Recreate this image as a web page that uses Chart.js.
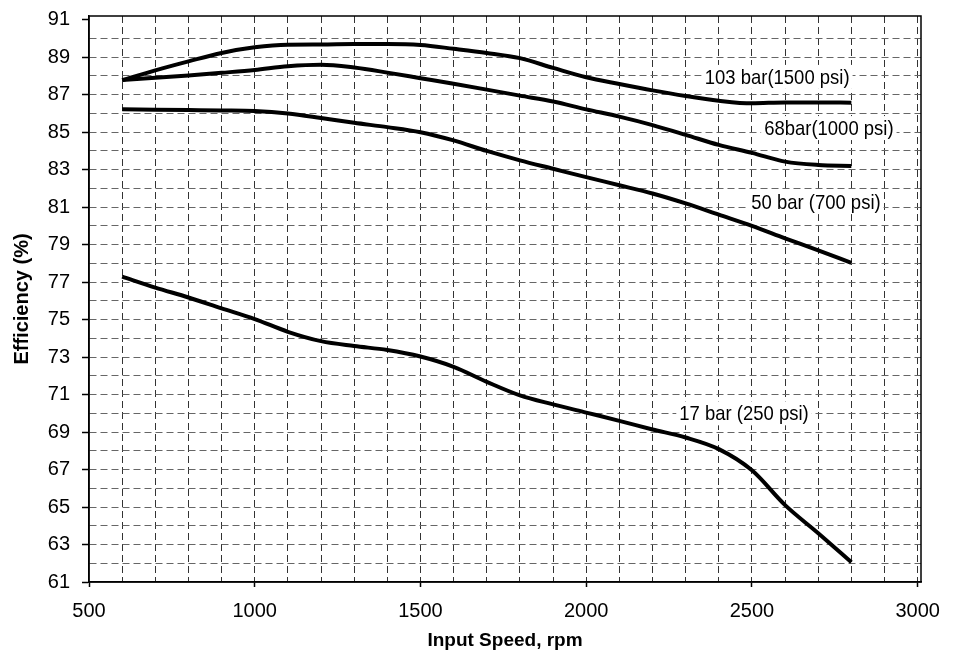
<!DOCTYPE html>
<html><head><meta charset="utf-8">
<script src="https://cdn.jsdelivr.net/npm/chart.js@4.4.0/dist/chart.umd.min.js"></script>
<style>html,body{margin:0;padding:0;background:#fff;}#wrap{width:956px;height:655px;position:relative;}</style>
</head><body><div id="wrap"><canvas id="c" width="956" height="655"></canvas></div>
<script>
// ---- data ----
const speeds = [600,700,800,900,1000,1100,1200,1300,1400,1500,1600,1700,1800,1900,2000,2100,2200,2300,2400,2500,2600,2700,2800];
const eff103 = [87.78,88.3,88.78,89.23,89.53,89.67,89.68,89.7,89.7,89.65,89.45,89.23,88.95,88.43,87.93,87.57,87.23,86.93,86.68,86.54,86.59,86.59,86.57];
const eff68  = [87.78,87.9,88.03,88.17,88.32,88.52,88.6,88.45,88.18,87.88,87.58,87.27,86.95,86.64,86.22,85.83,85.38,84.86,84.32,83.9,83.43,83.25,83.2];
const eff50  = [86.22,86.2,86.18,86.16,86.13,86.0,85.76,85.5,85.27,85.0,84.56,84.0,83.5,83.05,82.6,82.17,81.73,81.2,80.6,80.0,79.34,78.7,78.03];
const eff17  = [77.29,76.71,76.18,75.6,75.03,74.35,73.85,73.59,73.38,73.03,72.48,71.68,70.96,70.48,70.04,69.6,69.14,68.71,68.09,66.96,65.1,63.6,62.05];
const seriesNames = ['103 bar(1500 psi)','68bar(1000 psi)','50 bar (700 psi)','17 bar (250 psi)'];
const labelAtSpeed = [2576,2732,2693,2476];
const labelAtEff   = [87.95,85.22,81.27,70.0];
const xTickLabels = ['500','1000','1500','2000','2500','3000'];
const yTickLabels = ['61','63','65','67','69','71','73','75','77','79','81','83','85','87','89','91'];
const xTitle = 'Input Speed, rpm';
const yTitle = 'Efficiency (%)';

const seriesValues = [eff103, eff68, eff50, eff17];
const datasets = seriesValues.map((vals, i) => ({
  label: seriesNames[i],
  data: speeds.map((s, k) => ({x: s, y: vals[k]})),
  borderColor: '#000',
  borderWidth: 4,
  pointRadius: 0,
  fill: false,
  cubicInterpolationMode: 'monotone'
}));

const tickFont = {family: '"Liberation Sans", Arial, sans-serif', size: 20};

const decor = {
  id: 'decor',
  beforeDatasetsDraw(chart) {
    const {ctx, scales: {x, y}} = chart;
    ctx.save();
    ctx.font = '21px "Liberation Sans", Arial, sans-serif';
    ctx.textBaseline = 'middle';
    ctx.textAlign = 'left';
    const sx = 0.88;
    seriesNames.forEach((t, i) => {
      const px = x.getPixelForValue(labelAtSpeed[i]);
      const py = y.getPixelForValue(labelAtEff[i]);
      const w = ctx.measureText(t).width * sx;
      ctx.fillStyle = '#fff';
      ctx.fillRect(px - w / 2 - 3, py - 12, w + 6, 24);
      ctx.save();
      ctx.translate(px - w / 2, py + 1);
      ctx.scale(sx, 1);
      ctx.fillStyle = '#000';
      ctx.fillText(t, 0, 0);
      ctx.restore();
    });
    ctx.restore();
  },
  afterDraw(chart) {
    const {ctx, chartArea: a} = chart;
    ctx.save();
    ctx.strokeStyle = '#000';
    ctx.lineWidth = 1.5;
    ctx.strokeRect(a.left, a.top, a.right - a.left, a.bottom - a.top);
    ctx.restore();
  }
};

new Chart(document.getElementById('c'), {
  type: 'line',
  data: {datasets},
  plugins: [decor],
  options: {
    responsive: false,
    animation: false,
    devicePixelRatio: 1,
    layout: {padding: {top: 16, right: 35, left: 0, bottom: 0}},
    plugins: {legend: {display: false}, tooltip: {enabled: false}},
    scales: {
      x: {
        type: 'linear',
        min: 500, max: 3010,
        afterBuildTicks(s) { const t = []; for (let v = 500; v <= 3000; v += 100) t.push({value: v}); s.ticks = t; },
        afterFit(s) { s.height = 73; s.paddingLeft = 0; s.paddingRight = 0; },
        ticks: {
          autoSkip: false, maxRotation: 0, minRotation: 0, padding: 12, color: '#000', font: tickFont,
          callback: (v) => { const i = xTickLabels.indexOf(String(v)); return i >= 0 ? xTickLabels[i] : ''; }
        },
        grid: {
          color: (c) => (c.tick && c.tick.value === 500) ? 'rgba(0,0,0,0)' : '#333',
          lineWidth: 1,
          tickLength: 5,
          tickColor: (c) => (c.tick && c.tick.value % 500 === 0) ? '#000' : 'rgba(0,0,0,0)',
          tickWidth: 1.5,
          tickBorderDash: []
        },
        border: {display: true, color: '#000', width: 1.5, dash: [7, 4]},
        title: {display: true, text: xTitle, color: '#000', font: {family: '"Liberation Sans", Arial, sans-serif', size: 19, weight: 'bold'}, padding: {top: 0, bottom: 3}}
      },
      y: {
        type: 'linear',
        min: 61, max: 91.2,
        afterBuildTicks(s) { const t = []; for (let v = 61; v <= 91; v += 1) t.push({value: v}); s.ticks = t; },
        afterFit(s) { s.width = 89; s.paddingTop = 0; s.paddingBottom = 0; },
        ticks: {
          autoSkip: false, padding: 12, color: '#000', font: tickFont,
          callback: (v) => { const i = yTickLabels.indexOf(String(v)); return i >= 0 ? yTickLabels[i] : ''; }
        },
        grid: {
          color: (c) => (c.tick && (c.tick.value === 61 || c.tick.value === 91)) ? 'rgba(0,0,0,0)' : '#666',
          lineWidth: 1,
          tickLength: 7,
          tickColor: (c) => (c.tick && c.tick.value % 2 === 1) ? '#000' : 'rgba(0,0,0,0)',
          tickWidth: 1.5,
          tickBorderDash: []
        },
        border: {display: true, color: '#000', width: 1.5, dash: [7, 4]},
        title: {display: true, text: yTitle, color: '#000', font: {family: '"Liberation Sans", Arial, sans-serif', size: 20, weight: 'bold'}, padding: {top: 10, bottom: 0}}
      }
    }
  }
});
</script></body></html>
